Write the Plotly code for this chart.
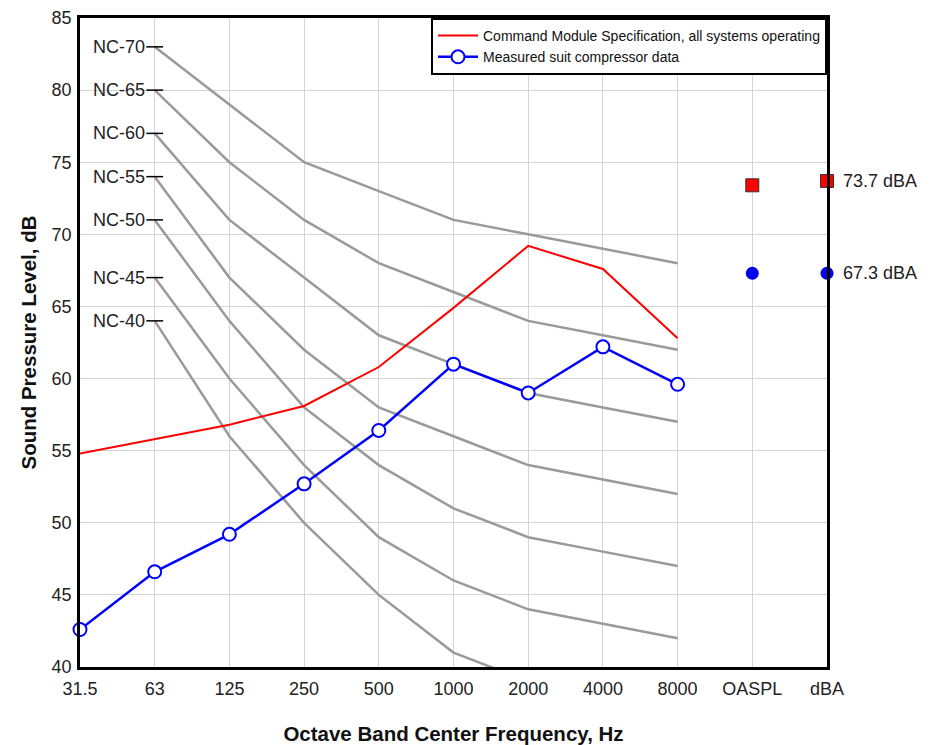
import plotly.graph_objects as go

# ---- data ----
categories = ["31.5", "63", "125", "250", "500", "1000", "2000", "4000", "8000", "OASPL", "dBA"]
octave_bands = categories[:9]
nc_bands = categories[1:9]

nc_labels = ["NC-70", "NC-65", "NC-60", "NC-55", "NC-50", "NC-45", "NC-40"]
nc_70 = [83, 79, 75, 73, 71, 70, 69, 68]
nc_65 = [80, 75, 71, 68, 66, 64, 63, 62]
nc_60 = [77, 71, 67, 63, 61, 59, 58, 57]
nc_55 = [74, 67, 62, 58, 56, 54, 53, 52]
nc_50 = [71, 64, 58, 54, 51, 49, 48, 47]
nc_45 = [67, 60, 54, 49, 46, 44, 43, 42]
nc_40 = [64, 56, 50, 45, 41, 39, 38, 37]
nc_curves = [nc_70, nc_65, nc_60, nc_55, nc_50, nc_45, nc_40]

spec_name = "Command Module Specification, all systems operating"
spec_levels = [54.8, 55.8, 56.8, 58.1, 60.8, 64.9, 69.2, 67.6, 62.8]
spec_totals = [73.4, 73.7]          # OASPL, dBA

measured_name = "Measured suit compressor data"
measured_levels = [42.6, 46.6, 49.2, 52.7, 56.4, 61.0, 59.0, 62.2, 59.6]
measured_totals = [67.3, 67.3]      # OASPL, dBA

total_cats = categories[9:]
spec_dba_label = "73.7 dBA"
measured_dba_label = "67.3 dBA"

y_ticks = [40, 45, 50, 55, 60, 65, 70, 75, 80, 85]

# ---- figure ----
FONT = "Liberation Sans, Arial, sans-serif"
fig = go.Figure()

for lab, vals in zip(nc_labels, nc_curves):
    fig.add_trace(go.Scatter(
        x=nc_bands, y=vals, mode="lines",
        line=dict(color="#9a9a9a", width=2.5),
        showlegend=False, hoverinfo="skip"))

# small tick marks at the start of each NC curve
fig.add_trace(go.Scatter(
    x=[nc_bands[0]] * len(nc_curves), y=[c[0] for c in nc_curves],
    mode="markers",
    marker=dict(symbol="line-ew", size=12, line=dict(color="black", width=1.5)),
    showlegend=False, hoverinfo="skip", cliponaxis=False))

nc_start_idx = categories.index(nc_bands[0])
for lab, vals in zip(nc_labels, nc_curves):
    fig.add_annotation(x=nc_start_idx, y=vals[0], text=lab, showarrow=False,
                       xref="x", yref="y",
                       xanchor="right", xshift=-8,
                       font=dict(family=FONT, size=18, color="#222"))

fig.add_trace(go.Scatter(
    x=octave_bands, y=spec_levels, mode="lines", name=spec_name,
    line=dict(color="#ff0000", width=2)))

fig.add_trace(go.Scatter(
    x=octave_bands, y=measured_levels, mode="lines+markers", name=measured_name,
    line=dict(color="#0000ff", width=2.5),
    marker=dict(symbol="circle", size=13, color="white",
                line=dict(color="#0000ff", width=2)),
    cliponaxis=False))

fig.add_trace(go.Scatter(
    x=total_cats, y=spec_totals, mode="markers", showlegend=False,
    marker=dict(symbol="square", size=13, color="#ff0000",
                line=dict(color="#333", width=1)),
    cliponaxis=False))

fig.add_trace(go.Scatter(
    x=total_cats, y=measured_totals, mode="markers", showlegend=False,
    marker=dict(symbol="circle", size=13, color="#0000ee",
                line=dict(color="#0000ee", width=0)),
    cliponaxis=False))

dba_idx = categories.index(total_cats[1])
fig.add_annotation(x=dba_idx, y=spec_totals[1], text=spec_dba_label,
                   showarrow=False, xanchor="left", xshift=14,
                   font=dict(family=FONT, size=18, color="#222"))
fig.add_annotation(x=dba_idx, y=measured_totals[1], text=measured_dba_label,
                   showarrow=False, xanchor="left", xshift=14,
                   font=dict(family=FONT, size=18, color="#222"))

fig.update_layout(
    width=930, height=745,
    margin=dict(l=72, r=111, t=10, b=86),
    plot_bgcolor="white", paper_bgcolor="white",
    font=dict(family=FONT, size=18, color="#222"),
    legend=dict(x=1, y=1, xanchor="right", yanchor="top",
                bgcolor="white", bordercolor="black", borderwidth=2,
                font=dict(family=FONT, size=14, color="#111"),
                tracegroupgap=0, itemwidth=40),
    showlegend=True,
)

fig.update_xaxes(
    type="category", categoryorder="array", categoryarray=categories,
    range=[0, len(categories) - 1], automargin=False,
    showgrid=True, gridcolor="#d4d4d4", gridwidth=1,
    showline=True, linecolor="black", linewidth=2.5, mirror=True,
    ticks="", tickfont=dict(size=18), ticklabelstandoff=4,
    ticklabeloverflow="allow",
    title=dict(text="<b>Octave Band Center Frequency, Hz</b>",
               font=dict(size=20.5, color="#111"), standoff=29),
    zeroline=False)

fig.update_yaxes(
    range=[40, 85], tickvals=y_ticks, automargin=False,
    showgrid=True, gridcolor="#d4d4d4", gridwidth=1,
    showline=True, linecolor="black", linewidth=2.5, mirror=True,
    ticks="", tickfont=dict(size=18), ticklabelstandoff=2,
    ticklabeloverflow="allow",
    title=dict(text="<b>Sound Pressure Level, dB</b>",
               font=dict(size=20.5, color="#111"), standoff=10),
    zeroline=False)

fig.write_html("out.html")
